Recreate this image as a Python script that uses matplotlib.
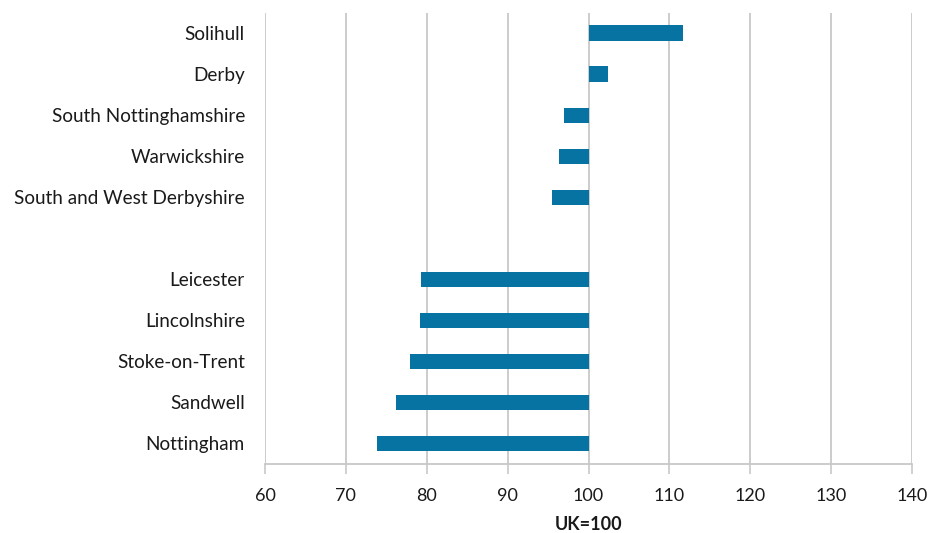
import matplotlib
matplotlib.use("Agg")
import matplotlib.pyplot as plt

# Index values relative to the UK average (UK = 100)
top_areas = ["Solihull", "Derby", "South Nottinghamshire", "Warwickshire",
             "South and West Derbyshire"]
top_values = [111.7, 102.4, 97.0, 96.3, 95.5]

bottom_areas = ["Leicester", "Lincolnshire", "Stoke-on-Trent", "Sandwell",
                "Nottingham"]
bottom_values = [79.3, 79.1, 77.9, 76.2, 73.8]

x_ticks = [60, 70, 80, 90, 100, 110, 120, 130, 140]
baseline = 100

plt.rcParams["font.family"] = ["Lato", "DejaVu Sans"]

fig = plt.figure(figsize=(9.29, 5.33), dpi=100)
ax = fig.add_axes([0.2853, 0.1295, 0.6964, 0.847])

labels = top_areas + [""] + bottom_areas
values = top_values + [None] + bottom_values
positions = list(range(len(labels)))

bar_color = "#0673a2"
for pos, val in zip(positions, values):
    if val is None:
        continue
    ax.barh(pos, val - baseline, left=baseline, height=0.37,
            color=bar_color, zorder=3)

ax.set_yticks(positions)
ax.set_yticklabels(labels, fontsize=13.6, color="#1a1a1a")
ax.set_ylim(len(labels) - 0.5, -0.5)
ax.tick_params(axis="y", length=0, pad=14.5)

ax.set_xlim(60, 140)
ax.set_xticks(x_ticks)
ax.set_xticklabels([str(t) for t in x_ticks], fontsize=13, color="#1a1a1a")
ax.tick_params(axis="x", length=7, width=1.2, color="#c8c8c8", pad=10)

ax.grid(axis="x", color="#c8c8c8", linewidth=1.3, zorder=0)
for side in ["top", "right", "left"]:
    ax.spines[side].set_visible(False)
ax.spines["bottom"].set_color("#c8c8c8")
ax.spines["bottom"].set_linewidth(1.3)

ax.set_xlabel("UK=100", fontsize=13, fontweight="bold", color="#1a1a1a",
              labelpad=9)

fig.savefig("out.png", dpi=100, facecolor="white")
